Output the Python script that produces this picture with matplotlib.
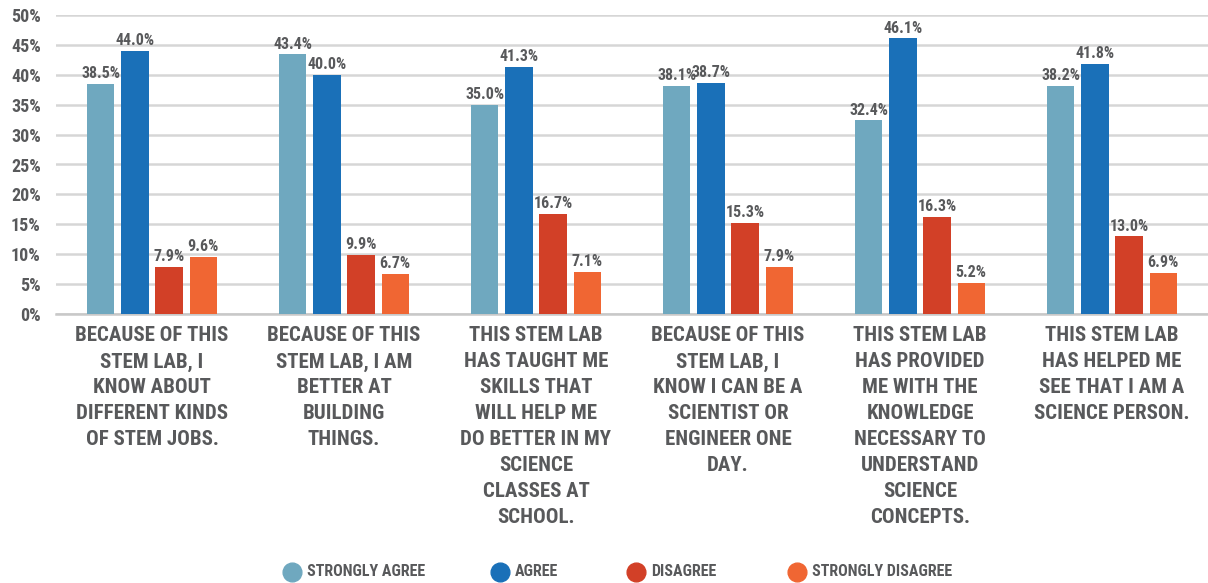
import matplotlib
matplotlib.use("Agg")
import matplotlib.pyplot as plt
from matplotlib.lines import Line2D
import numpy as np

categories = [
    "BECAUSE OF THIS\nSTEM LAB, I\nKNOW ABOUT\nDIFFERENT KINDS\nOF STEM JOBS.",
    "BECAUSE OF THIS\nSTEM LAB, I AM\nBETTER AT\nBUILDING\nTHINGS.",
    "THIS STEM LAB\nHAS TAUGHT ME\nSKILLS THAT\nWILL HELP ME\nDO BETTER IN MY\nSCIENCE\nCLASSES AT\nSCHOOL.",
    "BECAUSE OF THIS\nSTEM LAB, I\nKNOW I CAN BE A\nSCIENTIST OR\nENGINEER ONE\nDAY.",
    "THIS STEM LAB\nHAS PROVIDED\nME WITH THE\nKNOWLEDGE\nNECESSARY TO\nUNDERSTAND\nSCIENCE\nCONCEPTS.",
    "THIS STEM LAB\nHAS HELPED ME\nSEE THAT I AM A\nSCIENCE PERSON.",
]
series_names = ["STRONGLY AGREE", "AGREE", "DISAGREE", "STRONGLY DISAGREE"]
strongly_agree = [38.5, 43.4, 35.0, 38.1, 32.4, 38.2]
agree = [44.0, 40.0, 41.3, 38.7, 46.1, 41.8]
disagree = [7.9, 9.9, 16.7, 15.3, 16.3, 13.0]
strongly_disagree = [9.6, 6.7, 7.1, 7.9, 5.2, 6.9]
y_ticks = [0, 5, 10, 15, 20, 25, 30, 35, 40, 45, 50]

colors = ["#6fa8bf", "#1a70b8", "#d24027", "#f06633"]
text_color = "#58595b"
font = ["Roboto Condensed", "DejaVu Sans"]

plt.rcParams["font.family"] = font
plt.rcParams["font.weight"] = "bold"

W, H = 1208, 583
fig = plt.figure(figsize=(W / 100, H / 100), dpi=100)
ax = fig.add_axes([56 / W, 1 - 314 / H, 1152 / W, 299 / H])

values = [strongly_agree, agree, disagree, strongly_disagree]
x = np.arange(len(categories))
step = 0.178
width = 0.142
for i, (vals, col) in enumerate(zip(values, colors)):
    pos = x + (i - 1.5) * step
    ax.bar(pos, vals, width=width, color=col, zorder=3)
    for p, v in zip(pos, vals):
        ax.text(p, v + 0.45, f"{v:.1f}%", ha="center", va="bottom",
                fontsize=11.5, color=text_color, fontweight="bold")

ax.set_xlim(-0.5, len(categories) - 0.5)
ax.set_ylim(0, 50)
ax.set_yticks(y_ticks)
ax.set_yticklabels([f"{t}%" for t in y_ticks], fontsize=13,
                   color=text_color, fontweight="bold")
ax.yaxis.grid(True, color="#d6d6d6", linewidth=1.8, zorder=0)
ax.tick_params(axis="y", length=0, pad=11)
ax.tick_params(axis="x", length=0, pad=9)
ax.set_xticks(x)
ax.set_xticklabels(categories, fontsize=15, color=text_color,
                   fontweight="bold", linespacing=1.46, va="top")
for s in ["top", "right", "left"]:
    ax.spines[s].set_visible(False)
ax.spines["bottom"].set_color("#c8c8c8")
ax.spines["bottom"].set_linewidth(1.8)

# legend entries laid out along the bottom of the figure
legend_marker_x = [292, 500, 636, 797]
legend_y = 1 - 572 / H
for mx, name, col in zip(legend_marker_x, series_names, colors):
    fig.add_artist(Line2D([mx / W], [legend_y], marker="o", markersize=13.5,
                          linestyle="none", markerfacecolor=col,
                          markeredgecolor=col, transform=fig.transFigure))
    fig.text((mx + 15) / W, legend_y, name, ha="left", va="center",
             fontsize=11.5, color=text_color, fontweight="bold")

fig.savefig("out.png", dpi=100)
